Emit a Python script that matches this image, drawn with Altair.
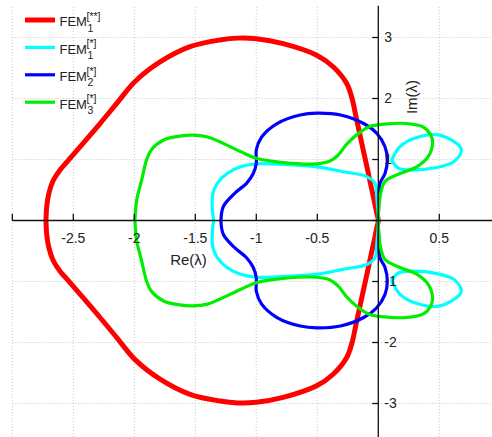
import altair as alt
import pandas as pd

# ---- Spectrum contours (upper half-plane; the lower half is the complex conjugate) ----
# FEM_1^[**]
RED_X = [-2.724, -2.718, -2.70, -2.664, -2.609, -2.552, -2.418, -2.281, -2.144, -1.994,
         -1.789, -1.543, -1.297, -1.15, -1.0, -0.78, -0.505, -0.37, -0.26, -0.215,
         -0.1825, -0.15, -0.1175, -0.091, -0.058, -0.035, -0.012, 0.0]
RED_Y = [0.0, 0.23, 0.45, 0.66, 0.83, 0.96, 1.27, 1.59, 1.92, 2.28,
         2.60, 2.85, 2.96, 2.99, 2.98, 2.90, 2.71, 2.52, 2.25, 2.0,
         1.70, 1.40, 1.10, 0.86, 0.55, 0.34, 0.12, 0.0]

# FEM_1^[*] : main contour
CYAN_X = [-1.35, -1.362, -1.355, -1.32, -1.24, -1.13, -1.0, -0.78, -0.505, -0.29,
          -0.095, -0.027, -0.013, -0.003, 0.0]
CYAN_Y = [0.0, 0.25, 0.45, 0.61, 0.77, 0.88, 0.93, 0.92, 0.88, 0.80,
          0.72, 0.61, 0.39, 0.15, 0.0]
# FEM_1^[*] : detached loop
LOOP_X = [0.11, 0.178, 0.315, 0.506, 0.67, 0.68, 0.615, 0.48, 0.287, 0.164, 0.11]
LOOP_Y = [0.99, 1.21, 1.36, 1.40, 1.21, 1.13, 0.96, 0.87, 0.83, 0.86, 0.99]

# FEM_2^[*]
BLUE_X = [-1.29, -1.27, -1.175, -1.08, -1.025, -1.0, -1.0, -0.956, -0.83, -0.64, -0.505,
          -0.31, -0.12, -0.013, 0.055, 0.074, 0.055, 0.014, 0.005, 0.0]
BLUE_Y = [0.0, 0.23, 0.45, 0.61, 0.77, 0.94, 1.16, 1.37, 1.59, 1.73, 1.76,
          1.73, 1.59, 1.43, 1.21, 0.99, 0.77, 0.61, 0.34, 0.0]

# FEM_3^[*]
GREEN_X = [-1.995, -1.98, -1.94, -1.90, -1.86, -1.76, -1.64, -1.52, -1.40, -1.30, -1.13,
           -1.0, -0.78, -0.505, -0.40, -0.33, -0.26, -0.18, -0.07, 0.05, 0.23, 0.37,
           0.43, 0.445, 0.41, 0.315, 0.178, 0.055, 0.02, 0.003, 0.0]
GREEN_Y = [0.0, 0.34, 0.66, 0.99, 1.16, 1.32, 1.38, 1.40, 1.37, 1.29, 1.13,
           1.02, 0.95, 0.93, 0.97, 1.07, 1.25, 1.40, 1.54, 1.58, 1.59, 1.53,
           1.40, 1.27, 1.05, 0.88, 0.77, 0.64, 0.45, 0.17, 0.0]

# ---- Axes ----
X_TICKS = [-3, -2.5, -2, -1.5, -1, -0.5, 0, 0.5]
Y_TICKS = [-3, -2, -1, 0, 1, 2, 3]
X_LABELS = ["-2.5", "-2", "-1.5", "-1", "-0.5", "0.5"]
Y_LABELS = ["-3", "-2", "-1", "1", "2", "3"]
X_DOMAIN = [-3.101, 0.932]
Y_DOMAIN = [-3.549, 3.615]
X_BOX = [-3.0, 0.932]
Y_BOX = [-3.55, 3.52]

W, H = 492, 437
FONT = "Liberation Sans"
TXT = "#222222"


def full_contour(xs, ys):
    """Upper half followed by its mirror image, ending back on the real axis."""
    pts = list(zip(xs, ys))
    lower = [(x, -y) for x, y in reversed(pts[:-1])]
    return pts + lower


def rows(series, seg, pts):
    return [{"series": series, "seg": seg, "k": i, "x": x, "y": y}
            for i, (x, y) in enumerate(pts)]


records = []
records += rows("red", "red", full_contour(RED_X, RED_Y))
records += rows("cyan", "cyan_main", full_contour(CYAN_X, CYAN_Y))
loop = list(zip(LOOP_X, LOOP_Y))
records += rows("cyan", "cyan_up", loop)
records += rows("cyan", "cyan_dn", [(x, -y) for x, y in loop])
records += rows("blue", "blue", full_contour(BLUE_X, BLUE_Y))
records += rows("green", "green", full_contour(GREEN_X, GREEN_Y))
curves = pd.DataFrame(records)

xs = alt.Scale(domain=X_DOMAIN, nice=False, zero=False)
ys = alt.Scale(domain=Y_DOMAIN, nice=False, zero=False)


def X(field):
    return alt.X(field, scale=xs, axis=None)


def Y(field):
    return alt.Y(field, scale=ys, axis=None)


# dotted grid
vgrid = alt.Chart(pd.DataFrame({"v": X_TICKS, "a": Y_BOX[0], "b": Y_BOX[1]})).mark_rule(
    color="#c8c8c8", strokeDash=[1, 2], strokeWidth=1
).encode(x=X("v:Q"), y=Y("a:Q"), y2="b:Q")
hgrid = alt.Chart(pd.DataFrame({"v": Y_TICKS, "a": X_BOX[0], "b": X_BOX[1]})).mark_rule(
    color="#c8c8c8", strokeDash=[1, 2], strokeWidth=1
).encode(y=Y("v:Q"), x=X("a:Q"), x2="b:Q")

curve_layers = []
for name, color, width in [("red", "#ff0000", 5), ("cyan", "#00ffff", 3.2),
                           ("blue", "#0000ff", 3.2), ("green", "#00ee00", 3.2)]:
    curve_layers.append(
        alt.Chart(curves).transform_filter(alt.datum.series == name).mark_line(
            color=color, strokeWidth=width, interpolate="catmull-rom",
            strokeCap="round", strokeJoin="round"
        ).encode(x=X("x:Q"), y=Y("y:Q"), detail="seg:N", order="k:Q")
    )

# axis lines through the origin, with inward ticks
AX = "#111111"
xaxis_line = alt.Chart(pd.DataFrame({"a": [X_BOX[0]], "b": [X_BOX[1]], "z": [0.0]})).mark_rule(
    color=AX, strokeWidth=1.3).encode(x=X("a:Q"), x2="b:Q", y=Y("z:Q"))
yaxis_line = alt.Chart(pd.DataFrame({"a": [Y_BOX[0]], "b": [Y_BOX[1]], "z": [0.0]})).mark_rule(
    color=AX, strokeWidth=1.3).encode(y=Y("a:Q"), y2="b:Q", x=X("z:Q"))
xticks = alt.Chart(pd.DataFrame({"v": X_TICKS, "a": 0.0, "b": 0.11})).mark_rule(
    color=AX, strokeWidth=1.3).encode(x=X("v:Q"), y=Y("a:Q"), y2="b:Q")
yticks = alt.Chart(pd.DataFrame({"v": Y_TICKS, "a": 0.0, "b": -0.05})).mark_rule(
    color=AX, strokeWidth=1.3).encode(y=Y("v:Q"), x=X("a:Q"), x2="b:Q")

# tick labels
xlab = alt.Chart(pd.DataFrame({"t": X_LABELS})).transform_calculate(
    v="toNumber(datum.t)", z="0").mark_text(
    font=FONT, fontSize=14, color=TXT, align="center", baseline="middle", dy=18
).encode(x=X("v:Q"), y=Y("z:Q"), text="t:N")
ylab = alt.Chart(pd.DataFrame({"t": Y_LABELS})).transform_calculate(
    v="toNumber(datum.t)", z="0").mark_text(
    font=FONT, fontSize=14, color=TXT, align="left", baseline="middle", dx=6
).encode(y=Y("v:Q"), x=X("z:Q"), text="t:N")

# axis titles
re_title = alt.Chart(pd.DataFrame({"t": ["Re(λ)"]})).mark_text(
    font=FONT, fontSize=15, color=TXT, align="center", baseline="middle"
).encode(text="t:N", x=alt.value(188.5), y=alt.value(260))
im_title = alt.Chart(pd.DataFrame({"t": ["Im(λ)"]})).mark_text(
    font=FONT, fontSize=15, color=TXT, align="center", baseline="middle", angle=270
).encode(text="t:N", x=alt.value(412), y=alt.value(97))

# legend: FEM with subscript index and bracketed superscript
legend_layers = []
entries = [("#ff0000", 5, "1", "[**]"), ("#00ffff", 3.2, "1", "[*]"),
           ("#0000ff", 3.2, "2", "[*]"), ("#00ee00", 3.2, "3", "[*]")]
for i, (color, width, sub, sup) in enumerate(entries):
    yc = 20 + 27.4 * i
    legend_layers.append(alt.Chart(pd.DataFrame({"t": ["FEM"]})).mark_rule(
        color=color, strokeWidth=width).encode(
        x=alt.value(25), x2=alt.value(55), y=alt.value(yc)))
    legend_layers.append(alt.Chart(pd.DataFrame({"t": ["FEM"]})).mark_text(
        font=FONT, fontSize=13, color=TXT, align="left", baseline="alphabetic"
    ).encode(text="t:N", x=alt.value(59.5), y=alt.value(yc + 6.3)))
    legend_layers.append(alt.Chart(pd.DataFrame({"t": [sup]})).mark_text(
        font=FONT, fontSize=10.5, color=TXT, align="left", baseline="alphabetic"
    ).encode(text="t:N", x=alt.value(86.5), y=alt.value(yc - 0.2)))
    legend_layers.append(alt.Chart(pd.DataFrame({"t": [sub]})).mark_text(
        font=FONT, fontSize=10.5, color=TXT, align="left", baseline="alphabetic"
    ).encode(text="t:N", x=alt.value(87.5), y=alt.value(yc + 11.5)))

chart = alt.layer(
    vgrid, hgrid, *curve_layers, xaxis_line, yaxis_line, xticks, yticks,
    xlab, ylab, re_title, im_title, *legend_layers
).properties(
    width=W, height=H, padding=0, autosize=alt.AutoSizeParams(type="none"),
    background="white"
).configure_view(stroke=None)

chart.save("out.html", embed_options={"renderer": "svg", "actions": False})
